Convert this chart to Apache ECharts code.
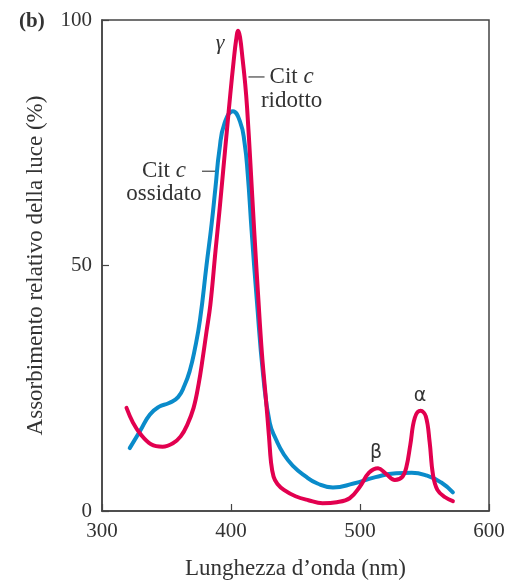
<!DOCTYPE html>
<html>
<head>
<meta charset="utf-8">
<script src="https://cdn.jsdelivr.net/npm/echarts@6/dist/echarts.min.js"></script>
<style>
  html, body { margin: 0; padding: 0; background: #fff; }
  #chart { width: 509px; height: 585px; }
</style>
</head>
<body>
<div id="chart"></div>
<script>
// Cit c ridotto (rosso)
var ridottoNm = [319, 324, 330, 338, 347, 355, 361, 366, 371, 375, 378, 381, 384, 388, 391, 394, 397, 399.5, 402, 404, 405.5, 407, 409, 411, 412.5, 415, 418, 421, 424, 427, 429.5, 431, 433, 436, 441, 450, 460, 471, 482, 492, 500, 507, 514, 520, 527, 533, 536, 539, 542.5, 547, 551, 554, 556.5, 560, 566, 572];
var ridottoAbs = [21, 18, 15.6, 13.6, 13.1, 13.8, 15.2, 17.5, 21, 26, 31, 36.5, 42, 53, 61, 69.5, 78, 85, 91.5, 96, 97.8, 96.5, 92, 87, 82, 71, 57, 44, 32, 23, 15, 10, 7, 5.5, 4.3, 3, 2.2, 1.6, 1.8, 2.6, 5, 7.8, 8.7, 7.6, 6.3, 7, 9, 13.5, 19, 20.4, 19.3, 14, 7.5, 4.3, 2.8, 2];

// Cit c ossidato (blu)
var ossidatoNm = [321.5, 329.5, 337, 344, 352, 359, 364, 368, 372, 376, 381, 385, 388, 391, 395, 401.5, 407, 410.5, 413, 416, 420, 425, 430, 435, 441, 448, 457, 467, 479, 495, 512, 528, 540, 552, 563, 572];
var ossidatoAbs = [12.8, 16.3, 19.6, 21.2, 22, 23.2, 25.6, 28.5, 33, 39, 50, 58.5, 66, 73.5, 79, 81.4, 79.3, 75, 68.5, 57, 43, 27.5, 18, 14.5, 11.5, 9.2, 7.2, 5.6, 4.8, 5.6, 6.9, 7.7, 7.8, 7.2, 5.8, 3.8];

var xTicks = [300, 400, 500, 600];
var yTicks = [0, 50, 100];

var RED = '#e2004f';
var BLUE = '#0a8bca';
var INK = '#333333';
var SERIF = 'Liberation Serif, DejaVu Serif, serif';

function pairs(xs, ys) {
  return xs.map(function (x, i) { return [x, ys[i]]; });
}

var myChart = echarts.init(document.getElementById('chart'));
var option = {
  backgroundColor: '#fff',
  animation: false,
  textStyle: { fontFamily: SERIF, color: INK },
  grid: {
    left: 102, right: 20, top: 20, bottom: 72,
    show: true, borderColor: '#444', borderWidth: 1.5
  },
  xAxis: {
    type: 'value',
    min: xTicks[0], max: xTicks[xTicks.length - 1], interval: 100,
    name: "Lunghezza d\u2019onda (nm)",
    nameLocation: 'middle', nameGap: 46,
    nameTextStyle: { fontFamily: SERIF, fontSize: 23, color: INK },
    axisLine: { lineStyle: { color: '#444', width: 1.5 } },
    axisTick: { inside: true, length: 7, lineStyle: { color: '#444', width: 1.2 } },
    axisLabel: { fontFamily: SERIF, fontSize: 21, color: INK, margin: 10 },
    splitLine: { show: false }
  },
  yAxis: {
    type: 'value',
    min: yTicks[0], max: yTicks[yTicks.length - 1], interval: 50,
    name: 'Assorbimento relativo della luce (%)',
    nameLocation: 'middle', nameGap: 55,
    nameTextStyle: { fontFamily: SERIF, fontSize: 23, color: INK },
    axisLine: { lineStyle: { color: '#444', width: 1.5 } },
    axisTick: { inside: true, length: 7, lineStyle: { color: '#444', width: 1.2 } },
    axisLabel: { fontFamily: SERIF, fontSize: 21, color: INK, margin: 10 },
    splitLine: { show: false }
  },
  series: [
    {
      name: 'Cit c ossidato',
      type: 'line',
      data: pairs(ossidatoNm, ossidatoAbs),
      smooth: 0.5,
      showSymbol: false,
      lineStyle: { color: BLUE, width: 4, cap: 'round' },
      z: 2
    },
    {
      name: 'Cit c ridotto',
      type: 'line',
      data: pairs(ridottoNm, ridottoAbs),
      smooth: 0.4,
      showSymbol: false,
      lineStyle: { color: RED, width: 4, cap: 'round' },
      z: 3
    }
  ]
};
myChart.setOption(option);

// annotazioni in coordinate dei dati
function px(x, y) { return myChart.convertToPixel({ gridIndex: 0 }, [x, y]); }

var citRich = {
  r: { fontFamily: SERIF, fontSize: 23, fill: INK },
  i: { fontFamily: SERIF, fontSize: 23, fontStyle: 'italic', fill: INK }
};

function label(at, text, extra) {
  var p = px(at[0], at[1]);
  return {
    type: 'text', x: p[0], y: p[1],
    style: Object.assign({
      text: text, fontFamily: SERIF, fontSize: 23, fill: INK,
      align: 'center', verticalAlign: 'middle'
    }, extra || {})
  };
}

function leader(a, b) {
  var p1 = px(a[0], a[1]), p2 = px(b[0], b[1]);
  return {
    type: 'line',
    shape: { x1: p1[0], y1: p1[1], x2: p2[0], y2: p2[1] },
    style: { stroke: '#444', lineWidth: 1.2 }
  };
}

var graphics = [
  { type: 'text', left: 19, top: 11, style: { text: '(b)', fontFamily: SERIF, fontSize: 21, fontWeight: 'bold', fill: INK } },
  label([391.5, 95.3], '\u03b3', { fontStyle: 'italic', fontSize: 22 }),
  label([447, 88.4], '{r|Cit }{i|c}', { rich: citRich }),
  label([447, 83.6], 'ridotto'),
  leader([413.5, 88.4], [426, 88.4]),
  label([348, 69.2], '{r|Cit }{i|c}', { rich: citRich }),
  label([348, 64.6], 'ossidato'),
  leader([377.5, 69.2], [389, 69.2]),
  label([512.4, 11.8], '\u03b2', { fontFamily: 'DejaVu Sans, sans-serif', fontSize: 19 }),
  label([546.5, 23.5], '\u03b1', { fontFamily: 'DejaVu Sans, sans-serif', fontSize: 19 })
];

myChart.setOption({ graphic: graphics });
</script>
</body>
</html>
